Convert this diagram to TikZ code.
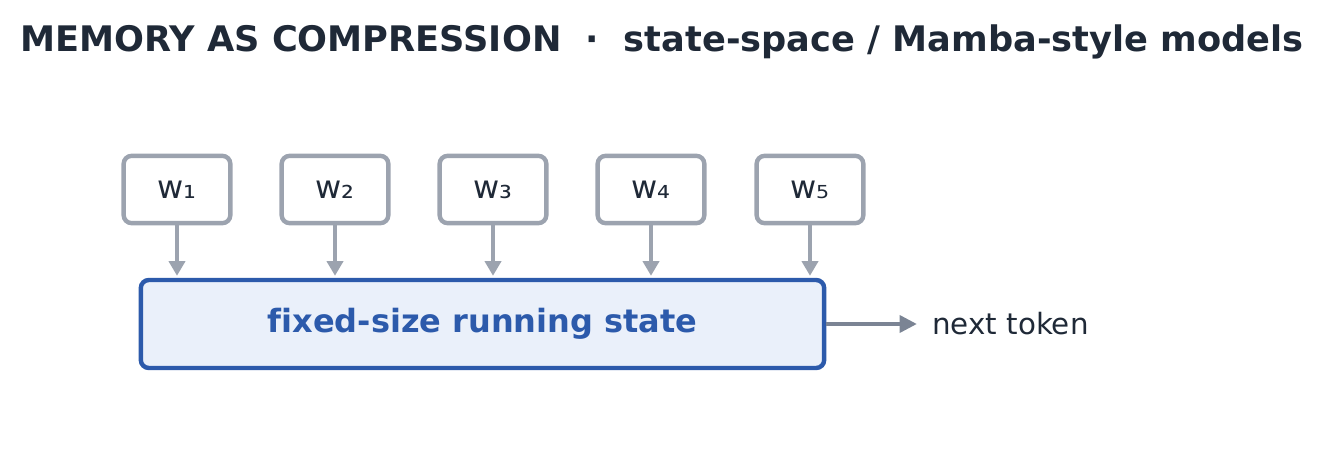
\documentclass[tikz,border=0pt]{standalone}
\usepackage{fontspec}
\setmainfont[Ligatures={NoCommon}]{DejaVu Sans}
\usetikzlibrary{arrows.meta,positioning}

\definecolor{inkdark}{HTML}{1F2937}
\definecolor{boxgray}{HTML}{9CA3AF}
\definecolor{stateblue}{HTML}{2C5AAB}
\definecolor{statefill}{HTML}{EAF0FA}
\definecolor{outgray}{HTML}{7B8494}

\begin{document}
\begin{tikzpicture}[
	x=0.75pt, y=-0.75pt,
	>=Triangle,
	token/.style={
		rectangle, rounded corners=6pt,
		draw=boxgray, fill=white, line width=3.3pt,
		minimum width=80pt, minimum height=50.5pt,
		text=inkdark, font=\fontsize{24}{28}\selectfont
	},
	state/.style={
		rectangle, rounded corners=6pt,
		draw=stateblue, fill=statefill, line width=3.3pt,
		minimum width=512.5pt, minimum height=66pt,
		text=stateblue, font=\fontsize{24}{28}\selectfont\bfseries
	},
	arr/.style={-{Triangle[length=11pt,width=12pt]}, line width=2.8pt, boxgray},
	oarr/.style={-{Triangle[length=13pt,width=12.5pt]}, line width=3.3pt, outgray}
]
\useasboundingbox (0,0) rectangle (1325,471);

% Title
\node[text=inkdark, font=\fontsize{26.4}{31}\selectfont\bfseries] (title) at (662, 42)
	{MEMORY AS COMPRESSION\ \ ·\ \ state-space / Mamba-style models};

% Input tokens, y=189.5
\node[token] (w1) at (177, 189.5) {w₁};
\node[token] (w2) at (335, 189.5) {w₂};
\node[token] (w3) at (493, 189.5) {w₃};
\node[token] (w4) at (651, 189.5) {w₄};
\node[token] (w5) at (810, 189.5) {w₅};

% Running state
\node[state] (st) at (482.5, 324) {fixed-size running state};

\draw[arr] (w1.south) -- ([yshift=1.5pt] w1.south |- st.north);
\draw[arr] (w2.south) -- ([yshift=1.5pt] w2.south |- st.north);
\draw[arr] (w3.south) -- ([yshift=1.5pt] w3.south |- st.north);
\draw[arr] (w4.south) -- ([yshift=1.5pt] w4.south |- st.north);
\draw[arr] (w5.south) -- ([yshift=1.5pt] w5.south |- st.north);

% Output
\node[text=inkdark, font=\fontsize{22}{26}\selectfont, anchor=west, inner sep=0pt] (next) at (932, 324) {next token};
\draw[oarr] (st.east) -- ([xshift=-11.25pt] next.west);

\end{tikzpicture}
\end{document}
